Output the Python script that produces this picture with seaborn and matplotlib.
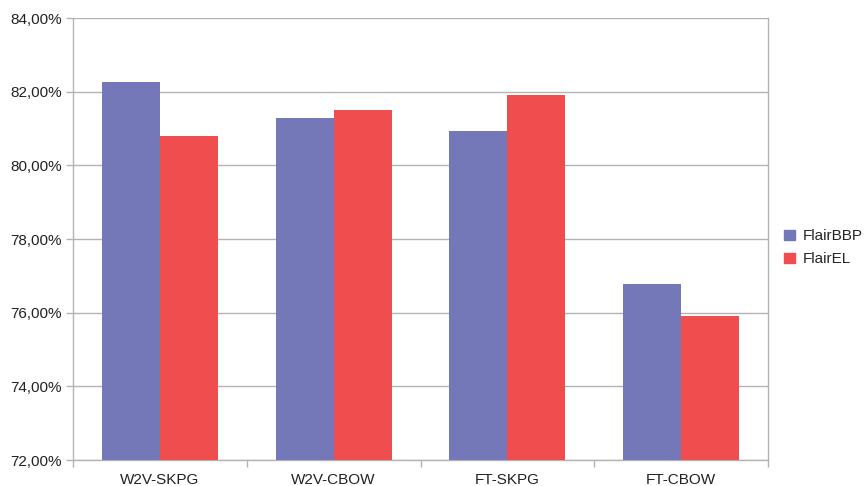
import matplotlib
matplotlib.use("Agg")
import matplotlib.pyplot as plt
from matplotlib.ticker import FuncFormatter, FixedLocator
import seaborn as sns
import pandas as pd

# Accuracy (%) per embedding configuration
categories = ["W2V-SKPG", "W2V-CBOW", "FT-SKPG", "FT-CBOW"]
flair_bbp = [82.27, 81.28, 80.93, 76.77]
flair_el = [80.80, 81.49, 81.90, 75.91]
series_names = ["FlairBBP", "FlairEL"]
y_ticks = [72, 74, 76, 78, 80, 82, 84]

df = pd.DataFrame({
    "model": categories * 2,
    "system": [series_names[0]] * len(categories) + [series_names[1]] * len(categories),
    "acc": flair_bbp + flair_el,
})

sns.set_theme(style="white")
plt.rcParams["font.family"] = ["Liberation Sans", "DejaVu Sans"]

grid_col = "#b3b3b3"
palette = {"FlairBBP": "#7477b8", "FlairEL": "#f04e4e"}

fig = plt.figure(figsize=(8.65, 4.86), dpi=100)
ax = fig.add_axes([73 / 865, 26 / 486, 695 / 865, 442 / 486])

sns.barplot(data=df, x="model", y="acc", hue="system", order=categories,
            hue_order=series_names, palette=palette, width=0.667,
            saturation=1, linewidth=0, ax=ax, legend=False, zorder=3)

ax.set_ylim(72, 84)
ax.set_xlim(-0.5, len(categories) - 0.5)
ax.yaxis.set_major_locator(FixedLocator(y_ticks))
ax.yaxis.set_major_formatter(FuncFormatter(lambda v, _: f"{v:.2f}%".replace(".", ",")))
ax.grid(axis="y", color=grid_col, linewidth=1, zorder=0)
ax.set_axisbelow(True)

ax.set_xlabel("")
ax.set_ylabel("")

for side in ["left", "right", "bottom"]:
    ax.spines[side].set_color(grid_col)
    ax.spines[side].set_linewidth(1)
ax.spines["top"].set_visible(False)

ax.tick_params(axis="y", which="major", length=5, width=1, color=grid_col,
               labelsize=11, labelcolor="#222222", pad=3, left=True)
ax.tick_params(axis="x", which="major", length=0, labelsize=11,
               labelcolor="#222222", pad=9)
ax.set_xticks([i - 0.5 for i in range(len(categories) + 1)], minor=True)
ax.tick_params(axis="x", which="minor", length=5, width=1, color=grid_col, bottom=True)

handles = [plt.Rectangle((0, 0), 1, 1, color=palette[n]) for n in series_names]
fig.legend(handles, series_names, loc="center left", bbox_to_anchor=(784 / 865, 0.49),
           frameon=False, fontsize=11, handlelength=0.7, handleheight=0.7,
           handletextpad=0.5, labelspacing=0.6, borderpad=0, borderaxespad=0)

fig.savefig("out.png", dpi=100, facecolor="white")
